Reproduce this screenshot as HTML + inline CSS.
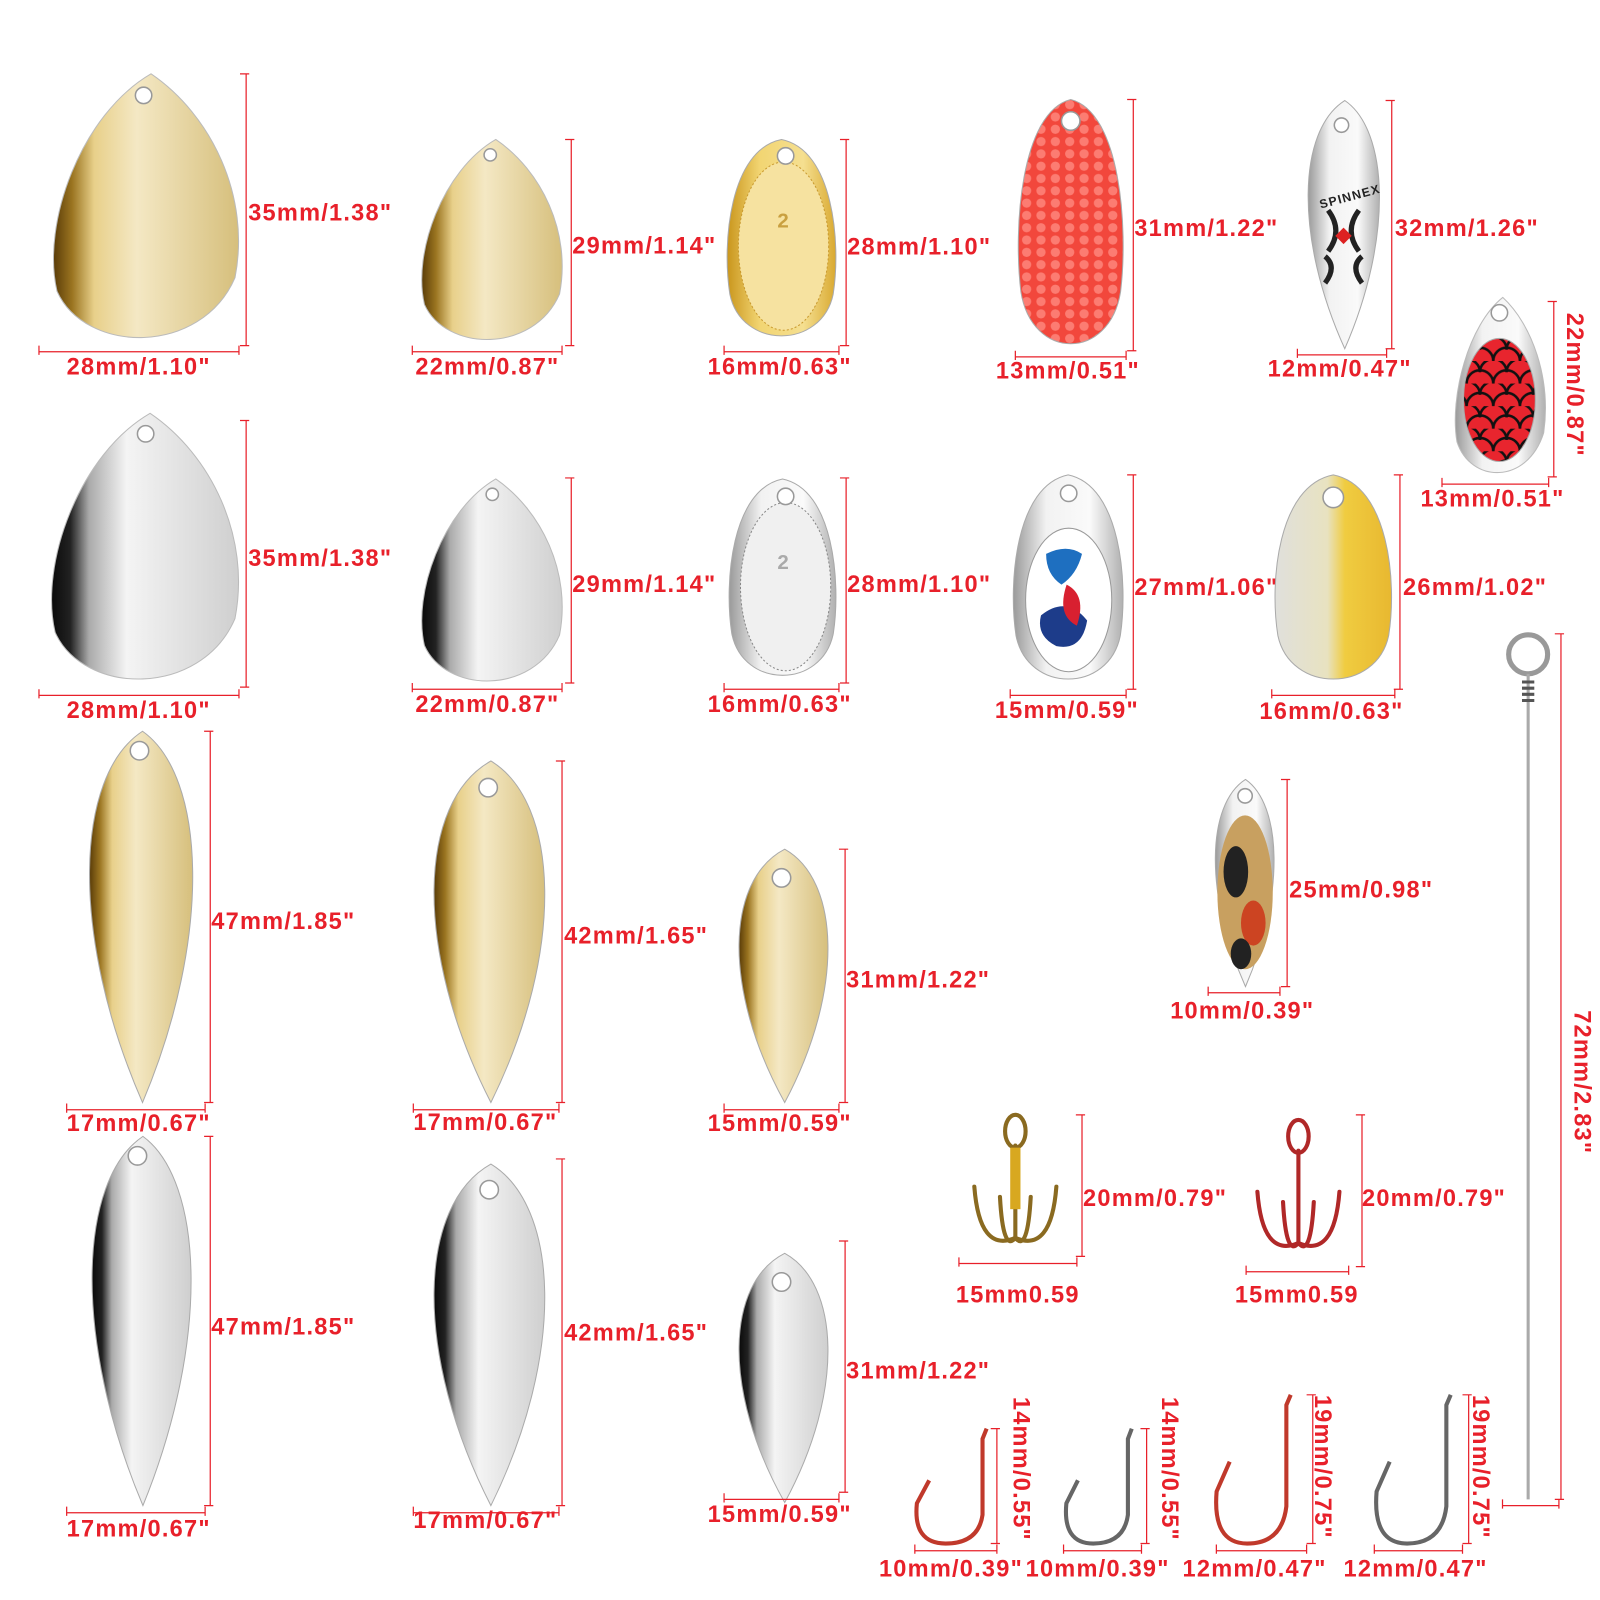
<!DOCTYPE html>
<html><head><meta charset="utf-8"><style>
html,body{margin:0;padding:0;background:#fff;width:1600px;height:1600px;overflow:hidden}
svg text{font-family:"Liberation Sans",Arial,sans-serif;font-weight:bold;font-size:23px;fill:#e8202a;letter-spacing:1.2px}
</style></head><body>
<svg width="1600" height="1600" viewBox="0 0 1600 1600" xmlns="http://www.w3.org/2000/svg">
<defs>
<linearGradient id="gold" x1="0" x2="1" y1="0" y2="0">
<stop offset="0" stop-color="#5a3c08"/><stop offset="0.1" stop-color="#9a7420"/><stop offset="0.22" stop-color="#e8d08a"/><stop offset="0.45" stop-color="#f4e8c4"/><stop offset="1" stop-color="#d6bf7c"/></linearGradient>
<linearGradient id="gold2" x1="0" x2="1" y1="0" y2="0">
<stop offset="0" stop-color="#c9951c"/><stop offset="0.3" stop-color="#f2d572"/><stop offset="0.7" stop-color="#f5df90"/><stop offset="1" stop-color="#d9a930"/></linearGradient>
<linearGradient id="silver" x1="0" x2="1" y1="0" y2="0">
<stop offset="0" stop-color="#0a0a0a"/><stop offset="0.1" stop-color="#222"/><stop offset="0.2" stop-color="#aaa"/><stop offset="0.4" stop-color="#f4f4f4"/><stop offset="1" stop-color="#cfcfcf"/></linearGradient>
<linearGradient id="silver2" x1="0" x2="1" y1="0" y2="0">
<stop offset="0" stop-color="#9a9a9a"/><stop offset="0.3" stop-color="#f2f2f2"/><stop offset="0.7" stop-color="#fafafa"/><stop offset="1" stop-color="#b0b0b0"/></linearGradient>
<linearGradient id="ys" x1="0" x2="1"><stop offset="0" stop-color="#e0e0dc"/><stop offset="0.45" stop-color="#e8e2c0"/><stop offset="0.6" stop-color="#f0cc40"/><stop offset="1" stop-color="#e8b830"/></linearGradient>
<pattern id="hc" width="14" height="12" patternUnits="userSpaceOnUse"><rect width="14" height="12" fill="#f2473c"/><circle cx="7" cy="6" r="4.5" fill="#ff8a80" opacity="0.8"/></pattern>
<pattern id="sc" width="26" height="22" patternUnits="userSpaceOnUse"><rect width="26" height="22" fill="#e8252e"/><path d="M0 22 A13 13 0 0 1 26 22 M-13 11 A13 13 0 0 1 13 11 M13 11 A13 13 0 0 1 39 11" stroke="#111" stroke-width="2.5" fill="none"/></pattern>
</defs>
<g id="s" transform="scale(1.0256)"></g>
</svg>
<script>
const s=document.getElementById('s');let h='';
function tear(x,y,w,hh,f){const t=x+w*0.55;return `<path d="M${t},${y} C${x+w*0.2},${y+hh*0.15} ${x},${y+hh*0.55} ${x+w*0.08},${y+hh*0.8} C${x+w*0.22},${y+hh*1.03} ${x+w*0.8},${y+hh*1.04} ${x+w*0.97},${y+hh*0.75} C${x+w*1.05},${y+hh*0.45} ${x+w*0.85},${y+hh*0.15} ${t},${y} Z" fill="${f}" stroke="#bbb" stroke-width="1"/>`;}
function willow(x,y,w,hh,f){const c=x+w*0.52;return `<path d="M${c},${y} C${x+w*1.02},${y+hh*0.12} ${x+w*1.08},${y+hh*0.55} ${c},${y+hh} C${x-w*0.06},${y+hh*0.55} ${x-w*0.02},${y+hh*0.12} ${c},${y} Z" fill="${f}" stroke="#aaa" stroke-width="1"/>`;}
function oval(x,y,w,hh,f){const c=x+w*0.5;return `<path d="M${c},${y} C${x+w*0.95},${y+hh*0.05} ${x+w*1.02},${y+hh*0.5} ${x+w*0.95},${y+hh*0.75} C${x+w*0.85},${y+hh*1.02} ${x+w*0.15},${y+hh*1.02} ${x+w*0.05},${y+hh*0.75} C${x-w*0.02},${y+hh*0.5} ${x+w*0.05},${y+hh*0.05} ${c},${y} Z" fill="${f}" stroke="#aaa" stroke-width="1"/>`;}
function hole(x,y,r){return `<circle cx="${x}" cy="${y}" r="${r}" fill="#fff" stroke="#999" stroke-width="1.5"/>`;}
function vd(x,y1,y2){return `<path d="M${x},${y1}V${y2}M${x-6},${y1}H${x+3}M${x-6},${y2}H${x+3}" stroke="#e8202a" stroke-width="1.2" fill="none"/>`;}
function hd(y,x1,x2){return `<path d="M${x1},${y}H${x2}M${x1},${y-6}V${y+3}M${x2},${y-6}V${y+3}" stroke="#e8202a" stroke-width="1.2" fill="none"/>`;}
function t(x,y,s){return `<text x="${x}" y="${y}">${s}</text>`;}
function rt(x,y,s){return `<text transform="translate(${x},${y}) rotate(90)">${s}</text>`;}
const q='&quot;';
h+=tear(40,72,195,265,'url(#gold)')+hole(140,93,8)+vd(240,72,337)+t(242,215,'35mm/1.38'+q)+hd(343,38,233)+t(65,365,'28mm/1.10'+q);
h+=tear(402,136,148,201,'url(#gold)')+hole(478,151,6)+vd(557,136,337)+t(558,247,'29mm/1.14'+q)+hd(343,402,548)+t(405,365,'22mm/0.87'+q);
h+=oval(706,136,112,201,'url(#gold2)')+`<ellipse cx="764" cy="240" rx="44" ry="82" fill="#f6e2a0" stroke="#c99a30" stroke-dasharray="2 2"/>`+hole(766,152,8)+t(758,222,'2').replace('<text','<text style="fill:#c9a040;font-size:20px"')+vd(825,136,337)+t(826,248,'28mm/1.10'+q)+hd(343,706,818)+t(690,365,'16mm/0.63'+q);
h+=oval(990,97,108,250,'url(#hc)')+hole(1044,118,9)+vd(1105,97,342)+t(1106,230,'31mm/1.22'+q)+hd(348,990,1098)+t(971,369,'13mm/0.51'+q);
h+=willow(1267,98,85,242,'url(#silver2)')+hole(1308,122,7)+`<text x="1286" y="200" style="fill:#222;font-size:12px" transform="rotate(-15 1300 195)">SPINNEX</text><path d="M1295 205 q15 20 0 40 M1325 205 q-15 20 0 40 M1292 250 q12 10 0 26 M1328 250 q-12 10 0 26" stroke="#222" stroke-width="5" fill="none"/><path d="M1310 222 l8 8 -8 8 -8 -8z" fill="#d22"/>`+vd(1357,98,340)+t(1360,230,'32mm/1.26'+q)+hd(346,1265,1352)+t(1236,367,'12mm/0.47'+q);
h+=tear(1413,290,95,176,'url(#silver2)')+`<ellipse cx="1462" cy="390" rx="35" ry="60" fill="url(#sc)" stroke="#aaa"/>`+hole(1462,305,8)+vd(1515,294,465)+rt(1528,305,'22mm/0.87'+q)+hd(472,1406,1510)+t(1385,494,'13mm/0.51'+q);
h+=tear(38,403,197,267,'url(#silver)')+hole(142,423,8)+vd(240,410,670)+t(242,552,'35mm/1.38'+q)+hd(678,38,233)+t(65,700,'28mm/1.10'+q);
h+=tear(402,467,148,203,'url(#silver)')+hole(480,482,6)+vd(557,466,666)+t(558,577,'29mm/1.14'+q)+hd(672,402,548)+t(405,694,'22mm/0.87'+q);
h+=oval(708,467,110,201,'url(#silver2)')+`<ellipse cx="766" cy="572" rx="44" ry="82" fill="#f0f0f0" stroke="#888" stroke-dasharray="2 2"/>`+hole(766,484,8)+t(758,555,'2').replace('<text','<text style="fill:#aaa;font-size:20px"')+vd(825,466,666)+t(826,577,'28mm/1.10'+q)+hd(672,706,818)+t(690,694,'16mm/0.63'+q);
h+=oval(985,463,113,209,'url(#silver2)')+`<ellipse cx="1042" cy="585" rx="42" ry="70" fill="#fff" stroke="#999"/><path d="M1020 540 q20 -10 35 0 q-5 20 -20 30 q-15 -10 -15 -30z" fill="#1e6fc0"/><path d="M1015 600 q25 -20 45 5 q-5 30 -30 25 q-20 -10 -15 -30z" fill="#1d3c8a"/><path d="M1040 570 q20 10 10 40 q-20 -10 -10 -40z" fill="#d82030"/>`+hole(1042,481,8)+vd(1105,463,672)+t(1106,580,'27mm/1.06'+q)+hd(678,985,1098)+t(970,700,'15mm/0.59'+q);
h+=oval(1240,463,120,209,'url(#ys)')+hole(1300,485,10)+vd(1365,463,672)+t(1368,580,'26mm/1.02'+q)+hd(678,1240,1360)+t(1228,701,'16mm/0.63'+q);
h+=willow(75,713,123,362,'url(#gold)')+hole(136,732,9)+vd(205,713,1075)+t(206,906,'47mm/1.85'+q)+hd(1082,65,200)+t(65,1103,'17mm/0.67'+q);
h+=willow(410,742,132,333,'url(#gold)')+hole(476,768,9)+vd(548,742,1075)+t(550,920,'42mm/1.65'+q)+hd(1082,403,545)+t(403,1102,'17mm/0.67'+q);
h+=willow(710,828,106,247,'url(#gold)')+hole(762,856,9)+vd(824,828,1075)+t(825,963,'31mm/1.22'+q)+hd(1082,706,818)+t(690,1103,'15mm/0.59'+q);
h+=willow(1178,760,70,202,'url(#silver2)')+`<ellipse cx="1214" cy="870" rx="27" ry="75" fill="#c8a060"/><ellipse cx="1205" cy="850" rx="12" ry="25" fill="#222"/><ellipse cx="1222" cy="900" rx="12" ry="22" fill="#c42"/><ellipse cx="1210" cy="930" rx="10" ry="15" fill="#222"/>`+hole(1214,776,7)+vd(1255,760,962)+t(1257,875,'25mm/0.98'+q)+hd(968,1178,1248)+t(1141,993,'10mm/0.39'+q);
h+=willow(78,1108,118,360,'url(#silver)')+hole(134,1127,9)+vd(205,1108,1468)+t(206,1301,'47mm/1.85'+q)+hd(1475,65,200)+t(65,1498,'17mm/0.67'+q);
h+=willow(410,1135,132,333,'url(#silver)')+hole(477,1160,9)+vd(548,1130,1468)+t(550,1307,'42mm/1.65'+q)+hd(1475,403,545)+t(403,1490,'17mm/0.67'+q);
h+=willow(710,1222,106,243,'url(#silver)')+hole(762,1250,9)+vd(824,1210,1455)+t(825,1344,'31mm/1.22'+q)+hd(1462,706,818)+t(690,1484,'15mm/0.59'+q);
function treble(cx,top,c,shank){return `<g stroke="${c}" stroke-width="4" fill="none" stroke-linecap="round"><ellipse cx="${cx}" cy="${top+16}" rx="10" ry="16"/><path d="M${cx},${top+30}V${top+120}"/><path d="M${cx},${top+120} q-35 15 -40 -50 M${cx},${top+120} q35 15 40 -50 M${cx},${top+120} q-12 15 -15 -40 M${cx},${top+120} q12 15 15 -40"/></g>${shank?`<rect x="${cx-5}" y="${top+32}" width="10" height="60" fill="${shank}"/>`:''}`;}
h+=treble(990,1087,'#8a6a20','#d8a820')+vd(1055,1087,1225)+t(1056,1176,'20mm/0.79'+q)+hd(1232,935,1050)+t(932,1270,'15mm0.59');
h+=treble(1266,1092,'#b02828',null)+vd(1328,1087,1235)+t(1328,1176,'20mm/0.79'+q)+hd(1240,1215,1315)+t(1204,1270,'15mm0.59');
h+=`<circle cx="1490" cy="638" r="19" fill="none" stroke="#999" stroke-width="5"/><path d="M1490 657 V1462" stroke="#aaa" stroke-width="3"/><path d="M1484 665 h12 M1484 671 h12 M1484 677 h12 M1484 683 h12" stroke="#555" stroke-width="3"/>`+vd(1522,618,1462)+hd(1468,1465,1520)+rt(1535,985,'72mm/2.83'+q);
function hook(x,y,w,hh,c){return `<path d="M${x+w*0.9},${y} L${x+w*0.85},${y+10} L${x+w*0.85},${y+hh*0.75} Q${x+w*0.8},${y+hh} ${x+w*0.4},${y+hh} Q${x},${y+hh} ${x+w*0.05},${y+hh*0.65} L${x+w*0.2},${y+hh*0.45}" stroke="${c}" stroke-width="4" fill="none"/>`;}
h+=hook(890,1393,80,112,'#c0392b')+vd(972,1393,1505)+rt(988,1362,'14mm/0.55'+q)+hd(1512,892,972)+t(857,1537,'10mm/0.39'+q);
h+=hook(1036,1393,75,112,'#666')+vd(1118,1393,1505)+rt(1133,1362,'14mm/0.55'+q)+hd(1512,1037,1113)+t(1000,1537,'10mm/0.39'+q);
h+=hook(1182,1360,85,145,'#c0392b')+vd(1280,1360,1505)+rt(1282,1360,'19mm/0.75'+q)+hd(1512,1186,1274)+t(1153,1537,'12mm/0.47'+q);
h+=hook(1338,1360,85,145,'#666')+vd(1432,1360,1505)+rt(1436,1360,'19mm/0.75'+q)+hd(1512,1340,1426)+t(1310,1537,'12mm/0.47'+q);
s.insertAdjacentHTML('beforeend',h);
</script>
</body></html>
